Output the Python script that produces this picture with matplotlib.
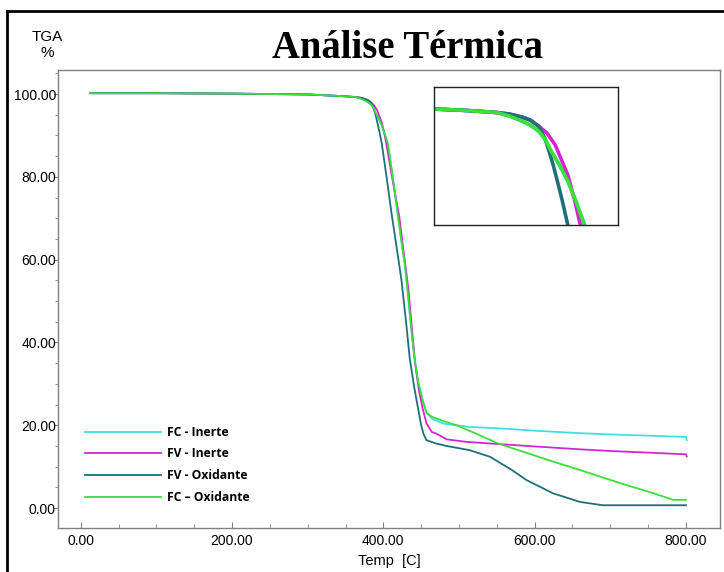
import numpy as np
import matplotlib.pyplot as plt
from matplotlib.lines import Line2D
from matplotlib.ticker import MultipleLocator

plt.rcParams['font.family'] = ['Liberation Sans', 'DejaVu Sans']

# leituras aproximadas do grafico TGA (temperatura em C, massa em %)
fc_inerte_t = [13, 100, 200, 300, 334, 350, 364, 370, 376, 380, 384, 387, 390, 394, 398, 402,
               406, 412, 419, 425, 428, 431, 436, 441, 446, 452, 457, 465, 480, 497, 514,
               550, 600, 660, 700, 750, 800, 801]
fc_inerte_m = [100.2, 100.2, 100.1, 99.9, 99.6, 99.45, 99.25, 98.9, 98.4, 98.0, 97.4, 96.6,
               95.4, 94.0, 92.4, 90.3, 88.0, 80.5, 71.0, 63.0, 59.5, 54.5, 45.0, 36.5, 30.5,
               26.0, 23.0, 21.5, 20.4, 20.0, 19.6, 19.3, 18.7, 18.1, 17.8, 17.5, 17.2, 16.4]

fv_inerte_t = [13, 100, 200, 300, 334, 350, 364, 370, 376, 380, 384, 388, 392, 395, 398, 401,
               404, 412, 421, 426, 430, 433, 438, 442, 447, 452, 457, 464, 470, 484, 510,
               550, 600, 660, 700, 750, 800, 801]
fv_inerte_m = [100.2, 100.2, 100.1, 99.9, 99.6, 99.45, 99.25, 99.1, 98.8, 98.5, 97.9, 97.2,
               96.0, 94.5, 93.0, 90.7, 88.0, 79.5, 70.5, 63.0, 57.5, 53.0, 43.0, 35.0, 28.5,
               24.0, 20.5, 18.4, 18.0, 16.6, 16.0, 15.5, 14.9, 14.2, 13.8, 13.4, 13.0, 12.5]

fv_oxid_t = [13, 100, 200, 300, 334, 350, 364, 370, 376, 380, 384, 387, 389, 391, 393, 395.5,
             398, 405, 411, 420, 424, 430, 435, 441, 446, 450, 453, 457, 470, 484, 514,
             541, 570, 589, 624, 660, 690, 750, 800]
fv_oxid_m = [100.2, 100.2, 100.1, 99.9, 99.6, 99.45, 99.25, 99.1, 98.8, 98.5, 97.9, 96.7,
             95.4, 94.0, 92.4, 90.3, 88.0, 79.0, 71.0, 60.0, 55.0, 45.0, 36.0, 29.0, 24.0,
             20.0, 18.0, 16.4, 15.6, 15.0, 14.0, 12.4, 9.2, 6.8, 3.6, 1.5, 0.7, 0.7, 0.7]

fc_oxid_t = [13, 100, 200, 300, 334, 350, 364, 370, 376, 380, 384, 387, 390, 394, 398, 402,
             406, 412, 419, 425, 428, 431, 436, 441, 446, 452, 457, 465, 480, 497, 520,
             552, 580, 620, 660, 712, 757, 783, 800]
fc_oxid_m = [100.2, 100.2, 100.1, 99.9, 99.6, 99.45, 99.25, 98.9, 98.4, 98.0, 97.4, 96.6,
             95.4, 94.0, 92.4, 90.3, 88.0, 80.5, 71.0, 63.0, 59.5, 54.5, 45.0, 36.5, 30.5,
             26.0, 23.0, 22.0, 21.0, 20.0, 18.2, 15.6, 13.9, 11.5, 9.2, 6.1, 3.6, 2.0, 2.0]

series = [
    ('FC - Inerte', fc_inerte_t, fc_inerte_m, '#3ee0e4'),
    ('FV - Inerte', fv_inerte_t, fv_inerte_m, '#d524d0'),
    ('FV - Oxidante', fv_oxid_t, fv_oxid_m, '#1f7078'),
    ('FC \u2013 Oxidante', fc_oxid_t, fc_oxid_m, '#3adf3a'),
]

x_ticks = [0, 200, 400, 600, 800]
y_ticks = [0, 20, 40, 60, 80, 100]

fig = plt.figure(figsize=(7.24, 5.72), dpi=100)
ax = fig.add_axes([0.0801, 0.0769, 0.9144, 0.8007])

for nome, t, m, cor in series:
    ax.plot(t, m, color=cor, lw=1.3, label=nome)

ax.set_xlim(-30, 845)
ax.set_ylim(-4.8, 105.8)
ax.set_xticks(x_ticks)
ax.set_yticks(y_ticks)
ax.set_xticklabels(['%.2f' % v for v in x_ticks])
ax.set_yticklabels(['%.2f' % v for v in y_ticks])
ax.xaxis.set_minor_locator(MultipleLocator(50))
ax.yaxis.set_minor_locator(MultipleLocator(5))
ax.tick_params(axis='x', which='both', direction='in', color='#808080', labelsize=10, pad=4)
ax.tick_params(axis='x', which='major', length=4)
ax.tick_params(axis='x', which='minor', length=3)
ax.tick_params(axis='y', which='both', direction='out', color='#808080', labelsize=10, pad=-1.5)
ax.tick_params(axis='y', which='major', length=3)
ax.tick_params(axis='y', which='minor', length=2.5)
for s in ax.spines.values():
    s.set_color('#808080')
    s.set_linewidth(1.0)

ax.set_xlabel('Temp  [C]', fontsize=10.5, labelpad=4.5)
fig.text(47 / 724, 1 - 37 / 572, 'TGA', ha='center', va='center', fontsize=11)
fig.text(47 / 724, 1 - 53 / 572, '%', ha='center', va='center', fontsize=11)
fig.text(0.5625, 0.916, 'Análise Térmica', ha='center', va='center', fontsize=27.8,
         family='Liberation Serif', weight='bold')

leg = ax.legend(loc='upper left', bbox_to_anchor=(0.024, 0.247), frameon=False,
                handlelength=6.3, handletextpad=0.5, labelspacing=0.72,
                prop={'family': 'Open Sans', 'weight': 'bold', 'size': 8.7})

# detalhe do inicio da degradacao
axin = fig.add_axes([0.5994, 0.6066, 0.2542, 0.2413])
for nome, t, m, cor in series:
    axin.plot(t, m, color=cor, lw=2.6)
axin.set_xlim(334, 422)
axin.set_ylim(88, 101.8)
axin.set_xticks([])
axin.set_yticks([])
for s in axin.spines.values():
    s.set_color('#222222')
    s.set_linewidth(1.0)

# moldura externa
fig.add_artist(Line2D([7 / 724, 1.0], [1 - 11 / 572, 1 - 11 / 572], color='black', lw=2))
fig.add_artist(Line2D([7 / 724, 7 / 724], [0.0, 1 - 11 / 572], color='black', lw=2))

fig.savefig('out.png', dpi=100)
